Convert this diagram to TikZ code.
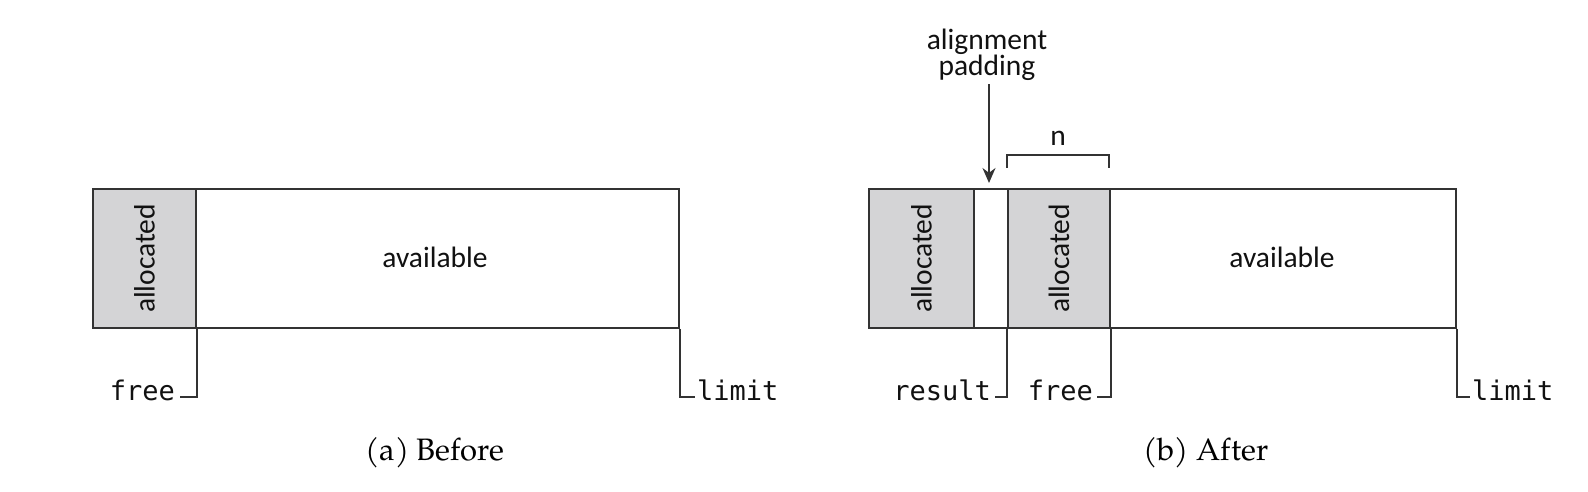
\documentclass[tikz,border=0pt]{standalone}
\usepackage{fontspec}
\setmainfont{TeX Gyre Pagella}
\setsansfont{Carlito}
\setmonofont{DejaVu Sans Mono}
\usetikzlibrary{arrows.meta}
\definecolor{lineC}{HTML}{333333}
\definecolor{fillC}{HTML}{D4D4D6}
\definecolor{textC}{HTML}{111111}
\tikzset{
  blk/.style={draw=lineC, line width=1.9pt, inner sep=0pt, anchor=north west, minimum height=139pt},
  alloc/.style={blk, fill=fillC},
  sftext/.style={font=\sffamily\fontsize{29.5}{24}\selectfont, text=textC, inner sep=0pt},
  ttlabel/.style={font=\ttfamily\fontsize{27}{30}\selectfont, text=textC, inner sep=0pt},
  caption/.style={font=\fontsize{31}{36}\selectfont, text=black, inner sep=0pt},
  lead/.style={draw=lineC, line width=1.7pt},
}
\begin{document}
\begin{tikzpicture}[x=1pt, y=-1pt]
\useasboundingbox (0,0) rectangle (1588,492);
% ---------- (a) Before ----------
\node[blk, minimum width=586pt] (outerA) at (92,188) {};
\node[alloc, minimum width=103pt] (allocA) at (92,188) {};
\node[sftext, rotate=90] (allocAtxt) at (allocA.center) {allocated};
\node[sftext] (availA) at (435,257) {available};
\node[ttlabel, anchor=base east] (freeA) at (175,400) {free};
\node[ttlabel, anchor=base west] (limitA) at (697,400) {limit};
\draw[lead] (allocA.south east) |- ([xshift=5pt, yshift=3pt]freeA.base east);
\draw[lead] (outerA.south east) |- ([xshift=-2pt, yshift=3pt]limitA.base west);
\node[caption, anchor=base] (capA) at (435,460) {(a) Before};
% ---------- (b) After ----------
\node[blk, minimum width=587pt] (outerB) at (868,188) {};
\node[alloc, minimum width=105pt] (allocB1) at (868,188) {};
\node[alloc, minimum width=102pt] (allocB2) at (1007,188) {};
\node[sftext, rotate=90] (allocB1txt) at (allocB1.center) {allocated};
\node[sftext, rotate=90] (allocB2txt) at (allocB2.center) {allocated};
\node[sftext] (availB) at (1282,257) {available};
\node[ttlabel, anchor=base east] (resultB) at (991,400) {result};
\node[ttlabel, anchor=base east] (freeB) at (1093,400) {free};
\node[ttlabel, anchor=base west] (limitB) at (1472,400) {limit};
\draw[lead] (allocB2.south west) |- ([xshift=4pt, yshift=3pt]resultB.base east);
\draw[lead] (allocB2.south east) |- ([xshift=4pt, yshift=3pt]freeB.base east);
\draw[lead] (outerB.south east) |- ([xshift=-2pt, yshift=3pt]limitB.base west);
\node[sftext, align=center, font=\sffamily\fontsize{29.5}{24.5}\selectfont] (padB) at (987,55) {alignment\\padding};
\coordinate (padTip) at (989,183);
\draw[lead, -{Stealth[length=15pt, width=13pt]}] (padB.south -| padTip) ++(0,3) -- (padTip);
\coordinate (nL) at (1007,155);
\coordinate (nR) at (1109,155);
\draw[lead] ([yshift=-13pt]nL) -- (nL) -- (nR) -- ([yshift=-13pt]nR);
\node[sftext, anchor=base] (nB) at (1058,146) {n};
\node[caption, anchor=base] (capB) at (1206,460) {(b) After};
\end{tikzpicture}
\end{document}
